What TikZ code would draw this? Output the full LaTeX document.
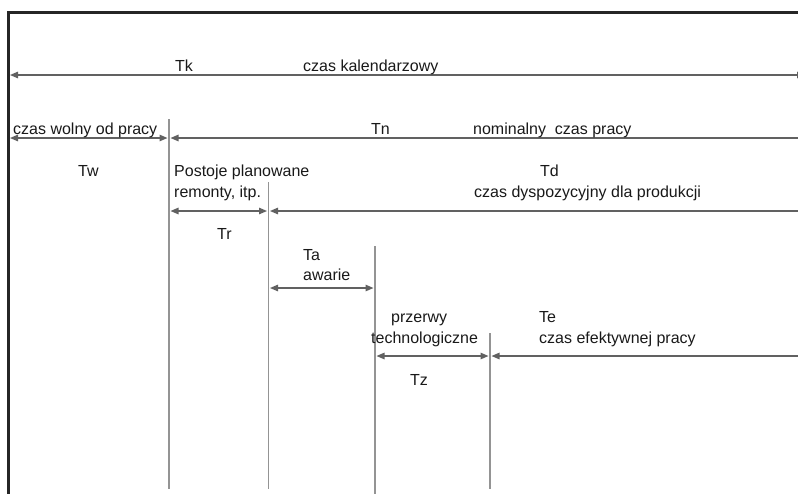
\documentclass[tikz,border=0pt]{standalone}
\usepackage{fontspec}
\setmainfont{Liberation Sans}
\usetikzlibrary{arrows.meta}
\begin{document}
\begin{tikzpicture}[x=1pt,y=-1pt,
  frame/.style={draw=black!85, line width=2.2pt},
  divider/.style={draw=black!42, line width=1.5pt},
  span/.style={draw=black!62, line width=1.3pt},
  tip/.style={-{Triangle[length=8pt,width=6.5pt]}},
  ltip/.style={{Triangle[length=8pt,width=6.5pt]}-},
  both/.style={{Triangle[length=8pt,width=6.5pt]}-{Triangle[length=8pt,width=6.5pt]}},
  lbl/.style={inner sep=0pt, anchor=base west, text=black!90, font=\fontsize{16}{18}\selectfont}]
\useasboundingbox (0,0) rectangle (798,493);
\clip (0,0) rectangle (798,493);

% outer frame (top and left edges)
\coordinate (fTL) at (8.5,12.5);
\coordinate (fTR) at (800,12.5);
\coordinate (fBL) at (8.5,495);
\draw[frame] (fTR) -- (fTL) -- (fBL);

% vertical boundaries between the time components
\coordinate (v1t) at (169,119); \coordinate (v1b) at (169,489);
\coordinate (v2t) at (268.5,182); \coordinate (v2b) at (268.5,489);
\coordinate (v3t) at (375,246); \coordinate (v3b) at (375,495);
\coordinate (v4t) at (490,333); \coordinate (v4b) at (490,489);
\draw[divider] (v1t) -- (v1b);
\draw[divider] (v2t) -- (v2b);
\draw[divider] (v3t) -- (v3b);
\draw[divider] (v4t) -- (v4b);

% Tk: calendar time
\coordinate (tkL) at (10,75); \coordinate (tkR) at (805,75);
\draw[span, both] (tkL) -- (tkR);
\node[lbl] (tk) at (175,71) {Tk};
\node[lbl] (tkt) at (303,71) {czas kalendarzowy};

% Tw / Tn
\coordinate (twL) at (10,138); \coordinate (twR) at (167.5,138);
\coordinate (tnL) at (170.5,138); \coordinate (tnR) at (800,138);
\draw[span, both] (twL) -- (twR);
\draw[span, ltip] (tnL) -- (tnR);
\node[lbl] (twt) at (13,134) {czas wolny od pracy};
\node[lbl] (tn) at (371,134) {Tn};
\node[lbl] (tnt) at (473,134) {nominalny\ \ czas pracy};
\node[lbl] (tw) at (78,176) {Tw};

% Tr / Td
\coordinate (trL) at (170.5,211); \coordinate (trR) at (267,211);
\coordinate (tdL) at (270,211); \coordinate (tdR) at (800,211);
\draw[span, both] (trL) -- (trR);
\draw[span, ltip] (tdL) -- (tdR);
\node[lbl] (trt1) at (174,176) {Postoje planowane};
\node[lbl] (trt2) at (174,197) {remonty, itp.};
\node[lbl] (tr) at (217,239) {Tr};
\node[lbl] (td) at (540,176) {Td};
\node[lbl] (tdt) at (474,197) {czas dyspozycyjny dla produkcji};

% Ta
\coordinate (taL) at (270,288); \coordinate (taR) at (373.5,288);
\draw[span, both] (taL) -- (taR);
\node[lbl] (ta) at (303,260) {Ta};
\node[lbl] (tat) at (303,280) {awarie};

% Tz / Te
\coordinate (tzL) at (376.5,356); \coordinate (tzR) at (488.5,356);
\coordinate (teL) at (491.5,356); \coordinate (teR) at (800,356);
\draw[span, both] (tzL) -- (tzR);
\draw[span, ltip] (teL) -- (teR);
\node[lbl] (tzt1) at (391,322) {przerwy};
\node[lbl] (tzt2) at (371,343) {technologiczne};
\node[lbl] (tz) at (410,385) {Tz};
\node[lbl] (te) at (539,322) {Te};
\node[lbl] (tet) at (539,343) {czas efektywnej pracy};
\end{tikzpicture}
\end{document}
